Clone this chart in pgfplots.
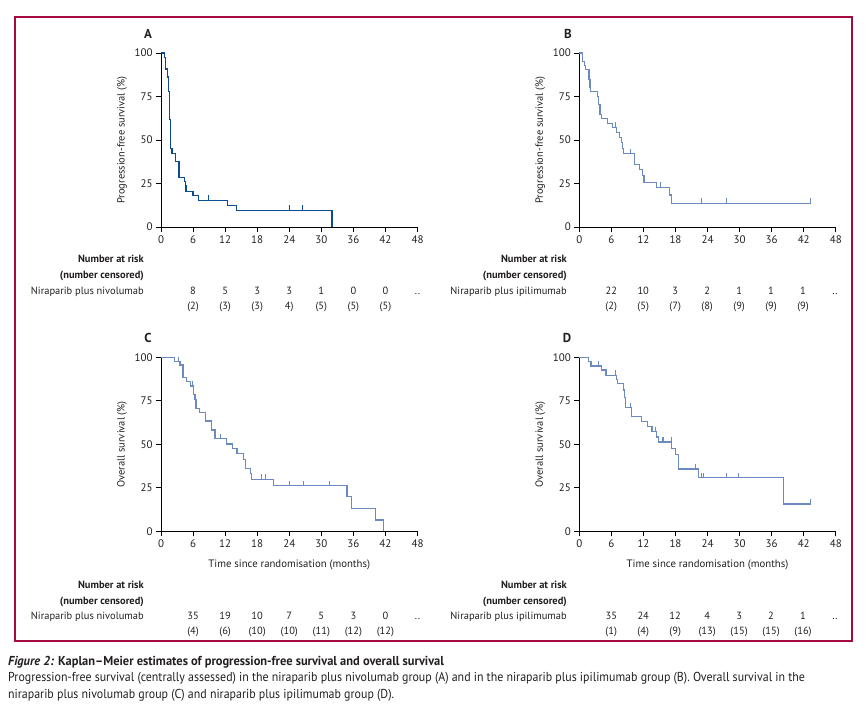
\documentclass[border=0pt]{standalone}
\usepackage{pgfplots}
\pgfplotsset{compat=1.18}
\usepackage{fontspec}
\setmainfont{PT Sans}
\newfontfamily\capfont[FakeStretch=0.92]{PT Sans}
\newfontfamily\captitle[FakeStretch=0.96]{PT Sans}

\definecolor{kmdark}{HTML}{0D4C94}
\definecolor{kmlight}{HTML}{6B8BC0}
\definecolor{framecol}{HTML}{A60D3F}
\definecolor{txt}{HTML}{231F20}

\pgfdeclareplotmark{cens}{%
  \pgfpathmoveto{\pgfpointorigin}%
  \pgfpathlineto{\pgfpoint{0pt}{5pt}}%
  \pgfusepathqstroke}

\pgfplotsset{km/.style={
  scale only axis, width=256.5bp, height=174bp, anchor=south west,
  xmin=0, xmax=48, ymin=0, ymax=100,
  xtick={0,6,...,48}, ytick={0,25,50,75,100},
  axis x line*=bottom, axis y line*=left,
  axis line style={-, black, line width=0.8pt},
  tick align=outside, major tick length=5bp,
  tick style={black, line width=0.8pt},
  tick label style={font=\fontsize{11}{12}\selectfont, text=txt},
  /pgf/number format/assume math mode=true,
  clip=false,
  every axis y label/.style={at={(axis description cs:-0.152,0.5)}, rotate=90, anchor=center,
    font=\fontsize{10.5}{12}\selectfont, text=txt},
  every axis x label/.style={at={(axis description cs:0.5,-0.19)}, anchor=center,
    font=\fontsize{10.8}{12}\selectfont, text=txt},
}}

\begin{document}
\begin{tikzpicture}
\path[use as bounding box] (0,0) rectangle (867bp,-710bp);

% A: progression-free survival, niraparib plus nivolumab
\begin{axis}[km, at={(161bp,-227bp)}, ylabel={Progression-free survival (\%)}]
\addplot[const plot, kmdark, line width=1.1pt] coordinates {
 (0,100) (0.62,97.5) (0.81,90.8) (1.25,86.2) (1.43,77.7) (1.56,61.6) (1.75,44.9)
 (2.06,42.4) (2.74,37.8) (3.37,28.6) (4.36,25.9) (4.55,23.6) (4.68,20.5)
 (5.99,18.2) (6.98,15.4) (12.4,12.5) (14.2,9.6) (32.0,9.6) (32.0,0)};
\addplot[only marks, mark=cens, kmdark, line width=0.8pt] coordinates {
 (8.85,15.4) (24.0,9.6) (26.4,9.6)};
\end{axis}

% B: progression-free survival, niraparib plus ipilimumab
\begin{axis}[km, at={(579.3bp,-227bp)}, ylabel={Progression-free survival (\%)}]
\addplot[const plot, kmlight, line width=1.1pt] coordinates {
 (0,100) (0.63,95.2) (0.94,92.7) (1.19,90.4) (1.81,85.0) (2.0,80.2) (2.13,77.9)
 (3.44,75.0) (3.63,70.2) (3.88,64.9) (4.07,62.2) (5.26,59.7) (6.13,57.2)
 (6.88,54.3) (7.57,51.4) (7.95,48.6) (8.13,45.3) (8.32,42.0) (10.26,35.7)
 (11.2,32.8) (11.8,29.6) (12.1,25.7) (14.4,22.8) (16.8,18.4) (17.3,13.6) (43.3,13.6)};
\addplot[only marks, mark=cens, kmlight, line width=0.8pt] coordinates {
 (4.19,62.2) (6.7,57.2) (9.5,42.0) (15.2,22.8) (22.8,13.6) (27.6,13.6) (43.3,13.6)};
\end{axis}

% C: overall survival, niraparib plus nivolumab
\begin{axis}[km, at={(161bp,-531.3bp)}, ylabel={Overall survival (\%)},
  xlabel={Time since randomisation (months)}]
\addplot[const plot, kmlight, line width=1.1pt] coordinates {
 (0,100) (2.56,97.5) (3.56,95.6) (4.12,88.3) (4.8,86.0) (5.56,83.5) (6.06,78.4)
 (6.37,75.5) (6.55,70.7) (7.24,68.4) (8.3,63.4) (9.49,58.2) (10.1,53.1)
 (12.2,50.2) (13.3,47.7) (14.1,44.8) (15.4,41.4) (15.8,36.2) (16.7,33.3)
 (17.0,29.9) (21.1,26.2) (34.8,19.9) (35.7,13.2) (40.1,6.5) (41.6,6.5) (41.6,0)};
\addplot[only marks, mark=cens, kmlight, line width=0.8pt] coordinates {
 (3.2,97.5) (5.87,83.5) (11.2,53.1) (14.3,44.8) (18.7,29.9) (19.6,29.9)
 (24.0,26.2) (26.6,26.2) (31.5,26.2)};
\end{axis}

% D: overall survival, niraparib plus ipilimumab
\begin{axis}[km, at={(579.3bp,-531.3bp)}, ylabel={Overall survival (\%)},
  xlabel={Time since randomisation (months)}]
\addplot[const plot, kmlight, line width=1.1pt] coordinates {
 (0,100) (1.75,97.5) (2.19,95.0) (4.19,92.7) (5.0,89.8) (7.0,87.4) (7.2,84.7)
 (8.26,81.2) (8.5,77.0) (8.6,71.1) (9.7,65.9) (11.7,63.0) (12.8,60.0)
 (13.6,57.3) (14.4,54.2) (14.8,51.3) (17.3,47.7) (18.0,43.9) (18.5,35.8)
 (22.3,30.8) (38.2,15.7) (43.3,15.7)};
\addplot[only marks, mark=cens, kmlight, line width=0.8pt] coordinates {
 (3.6,95.0) (6.7,89.8) (9.5,71.1) (14.3,57.3) (15.5,51.3) (15.7,51.3) (17.3,51.3)
 (21.8,35.8) (22.9,30.8) (23.2,30.8) (27.6,30.8) (29.7,30.8) (43.3,15.7)};
\end{axis}

\begin{scope}[x=1bp, y=-1bp, every node/.style={text=txt, inner sep=0pt,
  font=\fontsize{10.5}{12}\selectfont}]
\draw[framecol, line width=1.1bp] (15,17) rectangle (852,641);

\node[font=\fontsize{13}{14}\bfseries] at (148,34) {A};
\node[font=\fontsize{13}{14}\bfseries] at (568,34) {B};
\node[font=\fontsize{13}{14}\bfseries] at (148,338) {C};
\node[font=\fontsize{13}{14}\bfseries] at (567,338) {D};

% number at risk, A
\node[anchor=base east, font=\fontsize{10.5}{12}\bfseries] at (144,262.5) {Number at risk};
\node[anchor=base east, font=\fontsize{10.5}{12}\bfseries] at (144,278.5) {(number censored)};
\node[anchor=base east] at (144,294.5) {Niraparib plus nivolumab};
\foreach \t/\n/\c in {6/8/(2),12/5/(3),18/3/(3),24/3/4),30/1/(5),36/0/(5),42/0/(5)}{
  \node[anchor=base] at (161+5.344*\t,294.5) {\n};
  \node[anchor=base] at (161+5.344*\t,309.5) {\c};}
\node[anchor=base] at (161+5.344*48,294.5) {..};

% number at risk, B
\node[anchor=base east, font=\fontsize{10.5}{12}\bfseries] at (567,262.5) {Number at risk};
\node[anchor=base east, font=\fontsize{10.5}{12}\bfseries] at (567,278.5) {(number censored)};
\node[anchor=base east] at (567,294.5) {Niraparib plus ipilimumab};
\foreach \t/\n/\c in {6/22/(2),12/10/(5),18/3/(7),24/2/(8),30/1/(9),36/1/(9),42/1/(9)}{
  \node[anchor=base] at (579.3+5.327*\t,294.5) {\n};
  \node[anchor=base] at (579.3+5.327*\t,309.5) {\c};}
\node[anchor=base] at (579.3+5.327*48,294.5) {..};

% number at risk, C
\node[anchor=base east, font=\fontsize{10.5}{12}\bfseries] at (144,588.5) {Number at risk};
\node[anchor=base east, font=\fontsize{10.5}{12}\bfseries] at (144,604.5) {(number censored)};
\node[anchor=base east] at (144,619.5) {Niraparib plus nivolumab};
\foreach \t/\n/\c in {6/35/(4),12/19/(6),18/10/(10),24/7/(10),30/5/(11),36/3/(12),42/0/(12)}{
  \node[anchor=base] at (161+5.344*\t,619.5) {\n};
  \node[anchor=base] at (161+5.344*\t,634.5) {\c};}
\node[anchor=base] at (161+5.344*48,619.5) {..};

% number at risk, D
\node[anchor=base east, font=\fontsize{10.5}{12}\bfseries] at (567,588.5) {Number at risk};
\node[anchor=base east, font=\fontsize{10.5}{12}\bfseries] at (567,604.5) {(number censored)};
\node[anchor=base east] at (567,619.5) {Niraparib plus ipilimumab};
\foreach \t/\n/\c in {6/35/(1),12/24/(4),18/12/(9),24/4/(13),30/3/(15),36/2/(15),42/1/(16)}{
  \node[anchor=base] at (579.3+5.327*\t,619.5) {\n};
  \node[anchor=base] at (579.3+5.327*\t,634.5) {\c};}
\node[anchor=base] at (579.3+5.327*48,619.5) {..};

% caption
\node[anchor=base west, font=\captitle\fontsize{13}{14}\bfseries] at (8,665)
  {\itshape Figure 2:\upshape{} Kaplan–Meier estimates of progression-free survival and overall survival};
\node[anchor=base west, font=\capfont\fontsize{13}{14}\selectfont] at (8,681.5)
  {Progression-free survival (centrally assessed) in the niraparib plus nivolumab group (A) and in the niraparib plus ipilimumab group (B). Overall survival in the};
\node[anchor=base west, font=\capfont\fontsize{13}{14}\selectfont] at (8,698)
  {niraparib plus nivolumab group (C) and niraparib plus ipilimumab group (D).};
\end{scope}
\end{tikzpicture}
\end{document}
